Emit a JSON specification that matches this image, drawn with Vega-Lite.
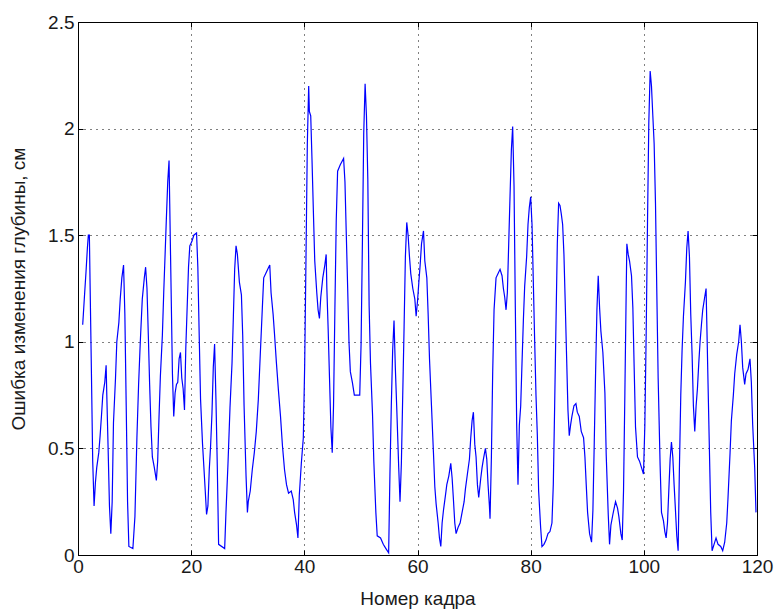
{
  "$schema": "https://vega.github.io/schema/vega-lite/v6.json",
  "width": 679,
  "height": 533,
  "autosize": {"type": "none"},
  "padding": {"left": 78, "top": 22, "right": 17, "bottom": 59},
  "background": "white",
  "config": {
    "view": {"stroke": "black", "strokeWidth": 1},
    "font": "Liberation Sans",
    "axis": {
      "labelFont": "Liberation Sans",
      "titleFont": "Liberation Sans",
      "labelColor": "#1a1a1a",
      "titleColor": "#1a1a1a",
      "labelFontSize": 19,
      "titleFontSize": 19,
      "titleFontWeight": "normal",
      "domainColor": "black",
      "tickColor": "black",
      "gridColor": "black",
      "gridDash": [1, 5],
      "gridOpacity": 1,
      "gridWidth": 1
    }
  },
  "data": {
    "values": [
      {"x": 0.83, "y": 1.08}, {"x": 0.95, "y": 1.13}, {"x": 1.18, "y": 1.23}, {"x": 1.42, "y": 1.33}, {"x": 1.66, "y": 1.44}, {"x": 1.83, "y": 1.5}, {"x": 2.01, "y": 1.5}, {"x": 2.13, "y": 1.28}, {"x": 2.37, "y": 0.86}, {"x": 2.6, "y": 0.44}, {"x": 2.84, "y": 0.23}, {"x": 3.08, "y": 0.34}, {"x": 3.31, "y": 0.41}, {"x": 3.67, "y": 0.48}, {"x": 3.91, "y": 0.56}, {"x": 4.14, "y": 0.65}, {"x": 4.38, "y": 0.75}, {"x": 4.73, "y": 0.81}, {"x": 4.97, "y": 0.89}, {"x": 5.09, "y": 0.75}, {"x": 5.33, "y": 0.49}, {"x": 5.56, "y": 0.23}, {"x": 5.8, "y": 0.1}, {"x": 6.04, "y": 0.25}, {"x": 6.27, "y": 0.62}, {"x": 6.63, "y": 0.83}, {"x": 6.86, "y": 1.0}, {"x": 7.22, "y": 1.09}, {"x": 7.46, "y": 1.2}, {"x": 7.75, "y": 1.3}, {"x": 8.05, "y": 1.36}, {"x": 8.28, "y": 1.13}, {"x": 8.52, "y": 0.7}, {"x": 8.76, "y": 0.25}, {"x": 8.99, "y": 0.04}, {"x": 9.7, "y": 0.03}, {"x": 10.06, "y": 0.18}, {"x": 10.41, "y": 0.55}, {"x": 10.71, "y": 0.8}, {"x": 11.01, "y": 1.0}, {"x": 11.36, "y": 1.2}, {"x": 11.72, "y": 1.3}, {"x": 11.95, "y": 1.35}, {"x": 12.19, "y": 1.25}, {"x": 12.43, "y": 1.03}, {"x": 12.66, "y": 0.8}, {"x": 12.9, "y": 0.6}, {"x": 13.14, "y": 0.46}, {"x": 13.49, "y": 0.41}, {"x": 13.85, "y": 0.35}, {"x": 14.08, "y": 0.44}, {"x": 14.32, "y": 0.65}, {"x": 14.56, "y": 0.84}, {"x": 14.91, "y": 1.03}, {"x": 15.15, "y": 1.23}, {"x": 15.38, "y": 1.4}, {"x": 15.62, "y": 1.58}, {"x": 15.86, "y": 1.75}, {"x": 16.09, "y": 1.85}, {"x": 16.21, "y": 1.65}, {"x": 16.45, "y": 1.25}, {"x": 16.69, "y": 0.85}, {"x": 16.92, "y": 0.65}, {"x": 17.16, "y": 0.76}, {"x": 17.4, "y": 0.8}, {"x": 17.63, "y": 0.81}, {"x": 17.87, "y": 0.92}, {"x": 18.11, "y": 0.95}, {"x": 18.34, "y": 0.83}, {"x": 18.58, "y": 0.78}, {"x": 18.82, "y": 0.68}, {"x": 19.05, "y": 0.97}, {"x": 19.29, "y": 1.16}, {"x": 19.53, "y": 1.35}, {"x": 19.76, "y": 1.45}, {"x": 20.12, "y": 1.47}, {"x": 20.47, "y": 1.5}, {"x": 20.95, "y": 1.51}, {"x": 21.18, "y": 1.35}, {"x": 21.42, "y": 1.03}, {"x": 21.66, "y": 0.73}, {"x": 22.01, "y": 0.52}, {"x": 22.25, "y": 0.41}, {"x": 22.49, "y": 0.3}, {"x": 22.72, "y": 0.19}, {"x": 22.96, "y": 0.23}, {"x": 23.2, "y": 0.4}, {"x": 23.43, "y": 0.51}, {"x": 23.67, "y": 0.66}, {"x": 23.91, "y": 0.88}, {"x": 24.14, "y": 0.99}, {"x": 24.38, "y": 0.73}, {"x": 24.62, "y": 0.41}, {"x": 24.85, "y": 0.05}, {"x": 25.92, "y": 0.03}, {"x": 26.15, "y": 0.2}, {"x": 26.51, "y": 0.43}, {"x": 26.86, "y": 0.69}, {"x": 27.22, "y": 0.9}, {"x": 27.46, "y": 1.12}, {"x": 27.69, "y": 1.34}, {"x": 27.93, "y": 1.45}, {"x": 28.17, "y": 1.41}, {"x": 28.52, "y": 1.28}, {"x": 28.88, "y": 1.22}, {"x": 29.11, "y": 1.03}, {"x": 29.35, "y": 0.7}, {"x": 29.7, "y": 0.37}, {"x": 29.94, "y": 0.2},
      {"x": 30.09, "y": 0.25}, {"x": 30.44, "y": 0.3}, {"x": 30.8, "y": 0.4}, {"x": 31.16, "y": 0.48}, {"x": 31.51, "y": 0.58}, {"x": 31.87, "y": 0.73}, {"x": 32.23, "y": 0.95}, {"x": 32.58, "y": 1.16}, {"x": 32.82, "y": 1.3}, {"x": 33.18, "y": 1.32}, {"x": 33.53, "y": 1.34}, {"x": 33.89, "y": 1.36}, {"x": 34.12, "y": 1.23}, {"x": 34.48, "y": 1.13}, {"x": 34.72, "y": 1.04}, {"x": 35.07, "y": 0.9}, {"x": 35.43, "y": 0.77}, {"x": 35.79, "y": 0.65}, {"x": 36.14, "y": 0.51}, {"x": 36.5, "y": 0.4}, {"x": 36.85, "y": 0.33}, {"x": 37.21, "y": 0.29}, {"x": 37.69, "y": 0.3}, {"x": 38.04, "y": 0.26}, {"x": 38.28, "y": 0.2}, {"x": 38.63, "y": 0.14}, {"x": 38.87, "y": 0.08}, {"x": 39.11, "y": 0.28}, {"x": 39.47, "y": 0.43}, {"x": 39.82, "y": 0.55}, {"x": 40.06, "y": 0.89}, {"x": 40.3, "y": 1.41}, {"x": 40.53, "y": 1.93}, {"x": 40.77, "y": 2.2}, {"x": 40.89, "y": 2.08}, {"x": 41.13, "y": 2.06}, {"x": 41.36, "y": 1.85}, {"x": 41.6, "y": 1.61}, {"x": 41.84, "y": 1.38}, {"x": 42.2, "y": 1.23}, {"x": 42.43, "y": 1.15}, {"x": 42.67, "y": 1.11}, {"x": 42.91, "y": 1.21}, {"x": 43.26, "y": 1.3}, {"x": 43.62, "y": 1.36}, {"x": 43.86, "y": 1.41}, {"x": 43.98, "y": 1.25}, {"x": 44.21, "y": 1.06}, {"x": 44.45, "y": 0.83}, {"x": 44.69, "y": 0.6}, {"x": 44.93, "y": 0.48}, {"x": 45.16, "y": 0.7}, {"x": 45.4, "y": 1.15}, {"x": 45.64, "y": 1.57}, {"x": 45.88, "y": 1.8}, {"x": 46.35, "y": 1.83}, {"x": 46.94, "y": 1.86}, {"x": 47.18, "y": 1.75}, {"x": 47.42, "y": 1.5}, {"x": 47.66, "y": 1.25}, {"x": 47.89, "y": 1.0}, {"x": 48.13, "y": 0.86}, {"x": 48.49, "y": 0.81}, {"x": 48.84, "y": 0.75}, {"x": 49.32, "y": 0.75}, {"x": 49.79, "y": 0.75}, {"x": 50.03, "y": 0.99}, {"x": 50.27, "y": 1.48}, {"x": 50.5, "y": 1.98}, {"x": 50.74, "y": 2.21}, {"x": 50.98, "y": 2.06}, {"x": 51.22, "y": 1.76}, {"x": 51.45, "y": 1.17}, {"x": 51.69, "y": 0.9}, {"x": 52.05, "y": 0.66}, {"x": 52.28, "y": 0.44}, {"x": 52.64, "y": 0.2}, {"x": 52.88, "y": 0.09}, {"x": 53.47, "y": 0.08}, {"x": 53.95, "y": 0.05}, {"x": 54.42, "y": 0.03}, {"x": 54.9, "y": 0.01}, {"x": 55.13, "y": 0.38}, {"x": 55.37, "y": 0.7}, {"x": 55.61, "y": 0.96}, {"x": 55.85, "y": 1.1}, {"x": 56.08, "y": 0.88}, {"x": 56.32, "y": 0.7}, {"x": 56.68, "y": 0.41}, {"x": 56.91, "y": 0.25}, {"x": 57.15, "y": 0.43}, {"x": 57.39, "y": 0.75}, {"x": 57.63, "y": 1.07}, {"x": 57.86, "y": 1.4}, {"x": 58.1, "y": 1.56}, {"x": 58.34, "y": 1.5}, {"x": 58.58, "y": 1.4}, {"x": 58.81, "y": 1.32}, {"x": 59.17, "y": 1.25}, {"x": 59.53, "y": 1.2}, {"x": 59.76, "y": 1.12}, {"x": 60.0, "y": 1.19},
      {"x": 60.24, "y": 1.28}, {"x": 60.47, "y": 1.36}, {"x": 60.71, "y": 1.46}, {"x": 61.06, "y": 1.52}, {"x": 61.29, "y": 1.38}, {"x": 61.65, "y": 1.3}, {"x": 61.88, "y": 1.13}, {"x": 62.12, "y": 0.92}, {"x": 62.47, "y": 0.7}, {"x": 62.82, "y": 0.48}, {"x": 63.06, "y": 0.32}, {"x": 63.29, "y": 0.24}, {"x": 63.65, "y": 0.15}, {"x": 63.88, "y": 0.08}, {"x": 64.12, "y": 0.04}, {"x": 64.35, "y": 0.15}, {"x": 64.59, "y": 0.21}, {"x": 64.94, "y": 0.28}, {"x": 65.18, "y": 0.33}, {"x": 65.53, "y": 0.37}, {"x": 65.88, "y": 0.43}, {"x": 66.12, "y": 0.36}, {"x": 66.35, "y": 0.26}, {"x": 66.59, "y": 0.15}, {"x": 66.82, "y": 0.1}, {"x": 67.18, "y": 0.13}, {"x": 67.53, "y": 0.15}, {"x": 67.88, "y": 0.2}, {"x": 68.24, "y": 0.25}, {"x": 68.47, "y": 0.31}, {"x": 68.82, "y": 0.38}, {"x": 69.18, "y": 0.45}, {"x": 69.41, "y": 0.55}, {"x": 69.65, "y": 0.63}, {"x": 69.88, "y": 0.67}, {"x": 70.12, "y": 0.52}, {"x": 70.35, "y": 0.46}, {"x": 70.59, "y": 0.33}, {"x": 70.82, "y": 0.27}, {"x": 71.18, "y": 0.36}, {"x": 71.41, "y": 0.41}, {"x": 71.65, "y": 0.45}, {"x": 72.0, "y": 0.5}, {"x": 72.24, "y": 0.45}, {"x": 72.47, "y": 0.33}, {"x": 72.71, "y": 0.23}, {"x": 72.82, "y": 0.17}, {"x": 73.06, "y": 0.46}, {"x": 73.29, "y": 0.86}, {"x": 73.53, "y": 1.15}, {"x": 73.88, "y": 1.3}, {"x": 74.24, "y": 1.32}, {"x": 74.59, "y": 1.34}, {"x": 74.94, "y": 1.31}, {"x": 75.18, "y": 1.25}, {"x": 75.41, "y": 1.21}, {"x": 75.65, "y": 1.15}, {"x": 75.88, "y": 1.23}, {"x": 76.12, "y": 1.46}, {"x": 76.35, "y": 1.68}, {"x": 76.59, "y": 1.9}, {"x": 76.82, "y": 2.01}, {"x": 77.06, "y": 1.73}, {"x": 77.29, "y": 1.16}, {"x": 77.53, "y": 0.61}, {"x": 77.76, "y": 0.33}, {"x": 78.0, "y": 0.61}, {"x": 78.24, "y": 0.7}, {"x": 78.47, "y": 0.9}, {"x": 78.71, "y": 1.1}, {"x": 78.94, "y": 1.26}, {"x": 79.29, "y": 1.4}, {"x": 79.53, "y": 1.55}, {"x": 79.76, "y": 1.63}, {"x": 80.0, "y": 1.68}, {"x": 80.24, "y": 1.55}, {"x": 80.47, "y": 1.28}, {"x": 80.71, "y": 1.0}, {"x": 80.94, "y": 0.75}, {"x": 81.18, "y": 0.56}, {"x": 81.41, "y": 0.3}, {"x": 81.76, "y": 0.13}, {"x": 82.0, "y": 0.04}, {"x": 82.35, "y": 0.05}, {"x": 82.71, "y": 0.07}, {"x": 83.06, "y": 0.1}, {"x": 83.41, "y": 0.11}, {"x": 83.76, "y": 0.15}, {"x": 84.0, "y": 0.33}, {"x": 84.24, "y": 0.7}, {"x": 84.47, "y": 1.08}, {"x": 84.71, "y": 1.46}, {"x": 84.94, "y": 1.65}, {"x": 85.18, "y": 1.64}, {"x": 85.41, "y": 1.6}, {"x": 85.65, "y": 1.55}, {"x": 85.88, "y": 1.41}, {"x": 86.12, "y": 1.17}, {"x": 86.35, "y": 0.93}, {"x": 86.59, "y": 0.68}, {"x": 86.82, "y": 0.56}, {"x": 87.06, "y": 0.61}, {"x": 87.29, "y": 0.65}, {"x": 87.65, "y": 0.7}, {"x": 88.0, "y": 0.71}, {"x": 88.24, "y": 0.67}, {"x": 88.59, "y": 0.65}, {"x": 88.94, "y": 0.58},
      {"x": 89.35, "y": 0.55}, {"x": 89.59, "y": 0.46}, {"x": 89.82, "y": 0.33}, {"x": 90.06, "y": 0.2}, {"x": 90.41, "y": 0.1}, {"x": 90.76, "y": 0.06}, {"x": 91.0, "y": 0.21}, {"x": 91.24, "y": 0.53}, {"x": 91.47, "y": 0.85}, {"x": 91.71, "y": 1.15}, {"x": 91.94, "y": 1.31}, {"x": 92.18, "y": 1.16}, {"x": 92.41, "y": 1.05}, {"x": 92.76, "y": 0.95}, {"x": 93.12, "y": 0.76}, {"x": 93.35, "y": 0.47}, {"x": 93.71, "y": 0.19}, {"x": 93.94, "y": 0.05}, {"x": 94.18, "y": 0.14}, {"x": 94.53, "y": 0.19}, {"x": 94.76, "y": 0.22}, {"x": 95.0, "y": 0.25}, {"x": 95.35, "y": 0.22}, {"x": 95.59, "y": 0.18}, {"x": 95.94, "y": 0.1}, {"x": 96.18, "y": 0.07}, {"x": 96.41, "y": 0.3}, {"x": 96.65, "y": 0.76}, {"x": 96.88, "y": 1.23}, {"x": 97.0, "y": 1.46}, {"x": 97.24, "y": 1.41}, {"x": 97.47, "y": 1.38}, {"x": 97.82, "y": 1.31}, {"x": 98.06, "y": 1.16}, {"x": 98.29, "y": 0.88}, {"x": 98.53, "y": 0.6}, {"x": 98.88, "y": 0.46}, {"x": 99.24, "y": 0.44}, {"x": 99.59, "y": 0.41}, {"x": 99.94, "y": 0.38}, {"x": 100.18, "y": 0.61}, {"x": 100.41, "y": 1.03}, {"x": 100.65, "y": 1.56}, {"x": 100.88, "y": 2.03}, {"x": 101.12, "y": 2.27}, {"x": 101.35, "y": 2.2}, {"x": 101.59, "y": 2.06}, {"x": 101.82, "y": 1.93}, {"x": 102.06, "y": 1.65}, {"x": 102.29, "y": 1.24}, {"x": 102.53, "y": 0.83}, {"x": 102.88, "y": 0.42}, {"x": 103.12, "y": 0.2}, {"x": 103.47, "y": 0.16}, {"x": 103.71, "y": 0.11}, {"x": 103.94, "y": 0.08}, {"x": 104.18, "y": 0.15}, {"x": 104.41, "y": 0.3}, {"x": 104.65, "y": 0.45}, {"x": 104.88, "y": 0.53}, {"x": 105.12, "y": 0.46}, {"x": 105.35, "y": 0.33}, {"x": 105.59, "y": 0.21}, {"x": 105.82, "y": 0.09}, {"x": 106.06, "y": 0.02}, {"x": 106.29, "y": 0.41}, {"x": 106.53, "y": 0.75}, {"x": 106.76, "y": 0.96}, {"x": 107.0, "y": 1.12}, {"x": 107.35, "y": 1.28}, {"x": 107.59, "y": 1.44}, {"x": 107.82, "y": 1.52}, {"x": 108.06, "y": 1.4}, {"x": 108.29, "y": 1.13}, {"x": 108.53, "y": 0.94}, {"x": 108.76, "y": 0.7}, {"x": 109.0, "y": 0.58}, {"x": 109.24, "y": 0.7}, {"x": 109.47, "y": 0.78}, {"x": 109.71, "y": 0.9}, {"x": 109.94, "y": 1.0}, {"x": 110.18, "y": 1.08}, {"x": 110.41, "y": 1.15}, {"x": 110.76, "y": 1.21}, {"x": 111.0, "y": 1.25}, {"x": 111.12, "y": 1.1}, {"x": 111.35, "y": 0.8}, {"x": 111.59, "y": 0.49}, {"x": 111.82, "y": 0.2}, {"x": 112.06, "y": 0.02}, {"x": 112.41, "y": 0.05}, {"x": 112.76, "y": 0.08}, {"x": 113.12, "y": 0.05}, {"x": 113.59, "y": 0.04}, {"x": 113.94, "y": 0.02}, {"x": 114.29, "y": 0.06}, {"x": 114.65, "y": 0.15}, {"x": 114.88, "y": 0.27}, {"x": 115.24, "y": 0.48}, {"x": 115.47, "y": 0.63}, {"x": 115.82, "y": 0.75}, {"x": 116.06, "y": 0.85}, {"x": 116.41, "y": 0.94}, {"x": 116.76, "y": 1.0}, {"x": 117.0, "y": 1.08}, {"x": 117.24, "y": 1.0}, {"x": 117.47, "y": 0.88}, {"x": 117.82, "y": 0.8}, {"x": 118.06, "y": 0.85}, {"x": 118.41, "y": 0.87}, {"x": 118.76, "y": 0.92}, {"x": 119.0, "y": 0.81}, {"x": 119.24, "y": 0.61}, {"x": 119.59, "y": 0.41}, {"x": 119.82, "y": 0.2}
    ]
  },
  "layer": [
    {
      "mark": {"type": "line", "color": "#0000ff", "strokeWidth": 1.2, "clip": true},
      "encoding": {
        "x": {
          "field": "x", "type": "quantitative",
          "scale": {"domain": [0, 120], "nice": false, "zero": false},
          "axis": {"values": [0, 20, 40, 60, 80, 100, 120], "grid": true, "tickSize": -5, "labelPadding": 7, "labelAngle": 0, "title": "Номер кадра", "titlePadding": 13, "labelFlush": false}
        },
        "y": {
          "field": "y", "type": "quantitative",
          "scale": {"domain": [0, 2.5], "nice": false},
          "axis": {"values": [0, 0.5, 1, 1.5, 2, 2.5], "format": "~g", "grid": true, "tickSize": -5, "labelPadding": 9, "title": "Ошибка изменения глубины, см", "titlePadding": 19, "labelFlush": false}
        }
      }
    },
    {
      "mark": {"type": "line", "opacity": 0},
      "encoding": {
        "x": {
          "field": "x", "type": "quantitative",
          "axis": {"orient": "top", "values": [0, 20, 40, 60, 80, 100, 120], "grid": false, "labels": false, "domain": false, "tickSize": -5, "title": null}
        },
        "y": {
          "field": "y", "type": "quantitative",
          "axis": {"orient": "right", "values": [0, 0.5, 1, 1.5, 2, 2.5], "grid": false, "labels": false, "domain": false, "tickSize": -5, "title": null}
        }
      }
    }
  ],
  "resolve": {"axis": {"x": "independent", "y": "independent"}}
}
